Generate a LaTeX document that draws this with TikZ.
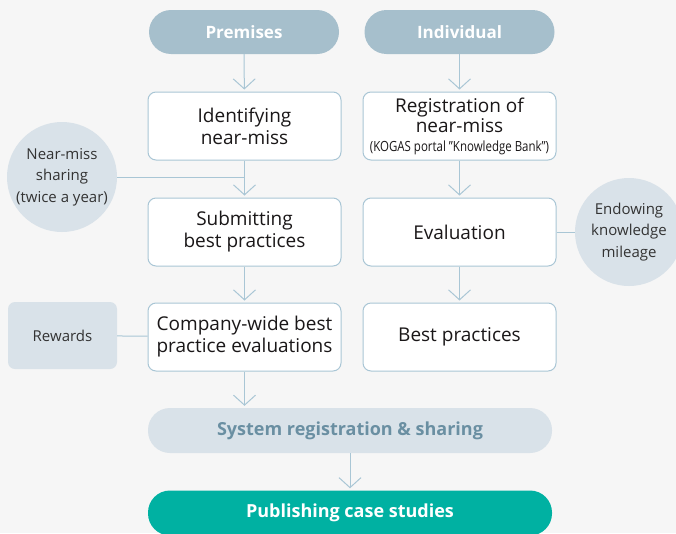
\documentclass[tikz,border=0pt]{standalone}
\usepackage{fontspec}
\setmainfont{Open Sans}
\usetikzlibrary{arrows.meta}
\definecolor{bg}{HTML}{F6F6F6}
\definecolor{pillc}{HTML}{A6BFCC}
\definecolor{edgec}{HTML}{A9C6D5}
\definecolor{softc}{HTML}{D9E2E9}
\definecolor{tealc}{HTML}{00B1A2}
\definecolor{sysc}{HTML}{6A8FA2}
\definecolor{txtc}{HTML}{1A1718}
\definecolor{graytxt}{HTML}{333333}
\tikzset{
  stepbox/.style={draw=edgec, line width=1pt, fill=white, rounded corners=8pt,
    minimum width=193pt, minimum height=68pt, align=center, inner sep=0pt,
    text=txtc, font=\fontsize{19}{22}\selectfont},
  headpill/.style={fill=pillc, rounded corners=22pt, minimum width=190pt,
    minimum height=44pt, inner sep=0pt, text=white, font=\bfseries\fontsize{17}{20}\selectfont},
  widepill/.style={rounded corners=22pt, minimum width=404pt, minimum height=45pt,
    inner sep=0pt, font=\bfseries\fontsize{18}{20}\selectfont},
  sidecircle/.style={circle, fill=softc, minimum size=110pt, inner sep=0pt, align=center,
    text=graytxt, font=\fontsize{15}{21.5}\selectfont},
  flowarrow/.style={draw=edgec, line width=1pt, shorten >=2pt,
    -{Straight Barb[length=10pt, width=22pt, line width=1pt]}},
  joinline/.style={draw=edgec, line width=1pt}
}
\begin{document}
\begin{tikzpicture}[x=1pt, y=-1pt]
\fill[bg] (0,0) rectangle (676,533);
\useasboundingbox (0,0) rectangle (676,533);

\node[headpill] (prem) at (244,32) {Premises};
\node[headpill] (indiv) at (459.5,32) {Individual};

\node[stepbox] (ident) at (244.5,126) {Identifying\\near-miss};
\node[stepbox, font=\fontsize{19}{20}\selectfont] (regis) at (459.5,126) {Registration of\\near-miss\\[-1pt]{\fontsize{14}{15}\selectfont\scalebox{0.82}[1]{(KOGAS portal "Knowledge Bank")}}};

\node[stepbox] (submit) at (244.5,232) {Submitting\\best practices};
\node[stepbox] (evalu) at (459.5,232) {Evaluation};

\node[stepbox] (company) at (244.5,337) {Company-wide best\\practice evaluations};
\node[stepbox] (best) at (459.5,337) {Best practices};

\node[sidecircle] (near) at (62,177) {Near-miss\\sharing\\(twice a year)};
\node[sidecircle, minimum size=108pt] (endow) at (629,232) {Endowing\\knowledge\\mileage};

\node[fill=softc, rounded corners=7pt, minimum width=109pt, minimum height=67pt,
  inner sep=0pt, text=graytxt, font=\fontsize{15}{20}\selectfont] (reward) at (62.5,335.5) {Rewards};

\node[widepill, fill=softc, text=sysc] (system) at (350,430.5) {System registration \& sharing};
\node[widepill, fill=tealc, text=white] (publish) at (350,513) {Publishing case studies};

\coordinate (jn) at (244,177);

\draw[flowarrow] (prem) -- (ident);
\draw[flowarrow] (indiv) -- (regis);
\draw[flowarrow] (ident) -- (submit);
\draw[joinline] (near.east) -- (jn);
\draw[flowarrow] (regis) -- (evalu);
\draw[joinline] (evalu) -- (endow);
\draw[flowarrow] (submit) -- (company);
\draw[flowarrow] (evalu) -- (best);
\draw[joinline] (reward) -- (company);
\draw[flowarrow] (company.south) -- (company.south |- system.north);
\draw[flowarrow] (system) -- (publish);
\end{tikzpicture}
\end{document}
